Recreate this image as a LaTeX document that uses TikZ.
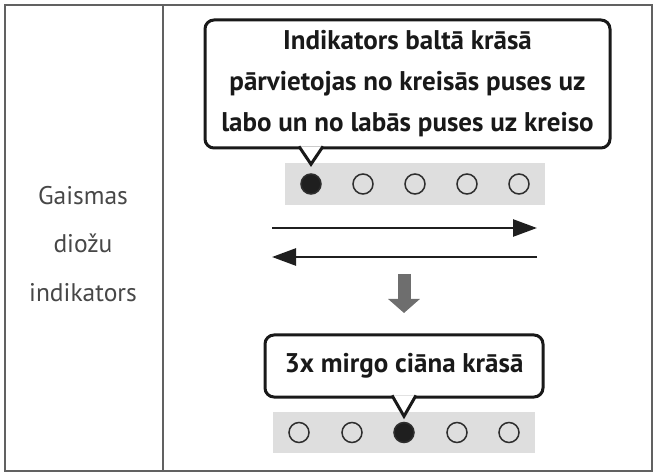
\documentclass[tikz,border=0pt]{standalone}
\usepackage{fontspec}
\setmainfont{PT Sans}
\usetikzlibrary{positioning, arrows.meta, calc}
\tikzset{
  % --- table frame ---
  frameline/.style={draw=black!62, line width=1.4pt},
  celltext/.style={align=center, text=black!72, inner sep=0pt,
    font=\fontsize{25.5}{48.5}\selectfont},
  % --- speech bubbles ---
  bubble/.style={draw=black!90, line width=3pt, rounded corners=9pt, fill=white,
    outer sep=0pt, inner sep=0pt, align=center, text=black!90,
    font=\bfseries\fontsize{27}{41}\selectfont},
  bubbletail/.style={draw=black!90, line width=3pt, fill=white, line join=miter},
  % --- LED strips ---
  ledstrip/.style={fill=black!13, inner sep=0pt, outer sep=0pt},
  ledoff/.style={circle, draw=black!82, line width=1.5pt, minimum size=20pt, inner sep=0pt},
  ledon/.style={ledoff, fill=black!88},
  % --- movement arrows ---
  sweep/.style={draw=black!88, line width=2.6pt, -{Triangle[length=24pt, width=17pt]}},
  nextstep/.style={draw=black!57, line width=13pt, -{Triangle[length=14pt, width=31pt]}},
}

\begin{document}
\begin{tikzpicture}[x=1pt, y=-1pt]
  \useasboundingbox (0,0) rectangle (654,473);
  % table cells
  \draw[frameline] (5,5) rectangle (652,471);
  \draw[frameline] (163,5) -- (163,471);
  \node[celltext] (rowlabel) at (83,244) {Gaismas\\diožu\\indikators};
  % LED strips
  \node[ledstrip, minimum width=260pt, minimum height=42pt] (walkstrip) at (415,184) {};
  \foreach \i/\dx/\st in {1/-104/ledon,2/-52/ledoff,3/0/ledoff,4/52/ledoff,5/104/ledoff}{
    \node[\st] (walk\i) at ($(walkstrip.center)+(\dx,0)$) {}; }
  \node[ledstrip, minimum width=262pt, minimum height=41pt] (blinkstrip) at (404,432.5) {};
  \foreach \i/\dx/\st in {1/-105/ledoff,2/-52/ledoff,3/0/ledon,4/53/ledoff,5/105/ledoff}{
    \node[\st] (blink\i) at ($(blinkstrip.center)+(\dx,0)$) {}; }
  % speech bubbles
  \node[bubble, minimum width=405pt, minimum height=128pt] (walkmsg) at (407.5,84)
    {Indikators baltā krāsā\\pārvietojas no kreisās puses uz\\labo un no labās puses uz kreiso};
  \coordinate (walktip) at ($(walk1.north)+(0,-9)$);
  \draw[bubbletail] ($(walk1 |- walkmsg.south)+(-12,-1.6)$) -- (walktip)
    -- ($(walk1 |- walkmsg.south)+(12,-1.6)$);
  \node[bubble, minimum width=278pt, minimum height=62pt] (blinkmsg) at (404,366)
    {3x mirgo ciāna krāsā};
  \coordinate (blinktip) at ($(blink3.north)+(0,-5.5)$);
  \draw[bubbletail] ($(blink3 |- blinkmsg.south)+(-12,-1.6)$) -- (blinktip)
    -- ($(blink3 |- blinkmsg.south)+(12,-1.6)$);
  % movement
  \coordinate (fwdstart) at (272,228);
  \coordinate (fwdend) at (537,228);
  \coordinate (backstart) at (537,257);
  \coordinate (backend) at (272,257);
  \draw[sweep] (fwdstart) -- (fwdend);
  \draw[sweep] (backstart) -- (backend);
  \coordinate (stepfrom) at (404,274);
  \coordinate (stepto) at (404,313);
  \draw[nextstep] (stepfrom) -- (stepto);
\end{tikzpicture}
\end{document}
